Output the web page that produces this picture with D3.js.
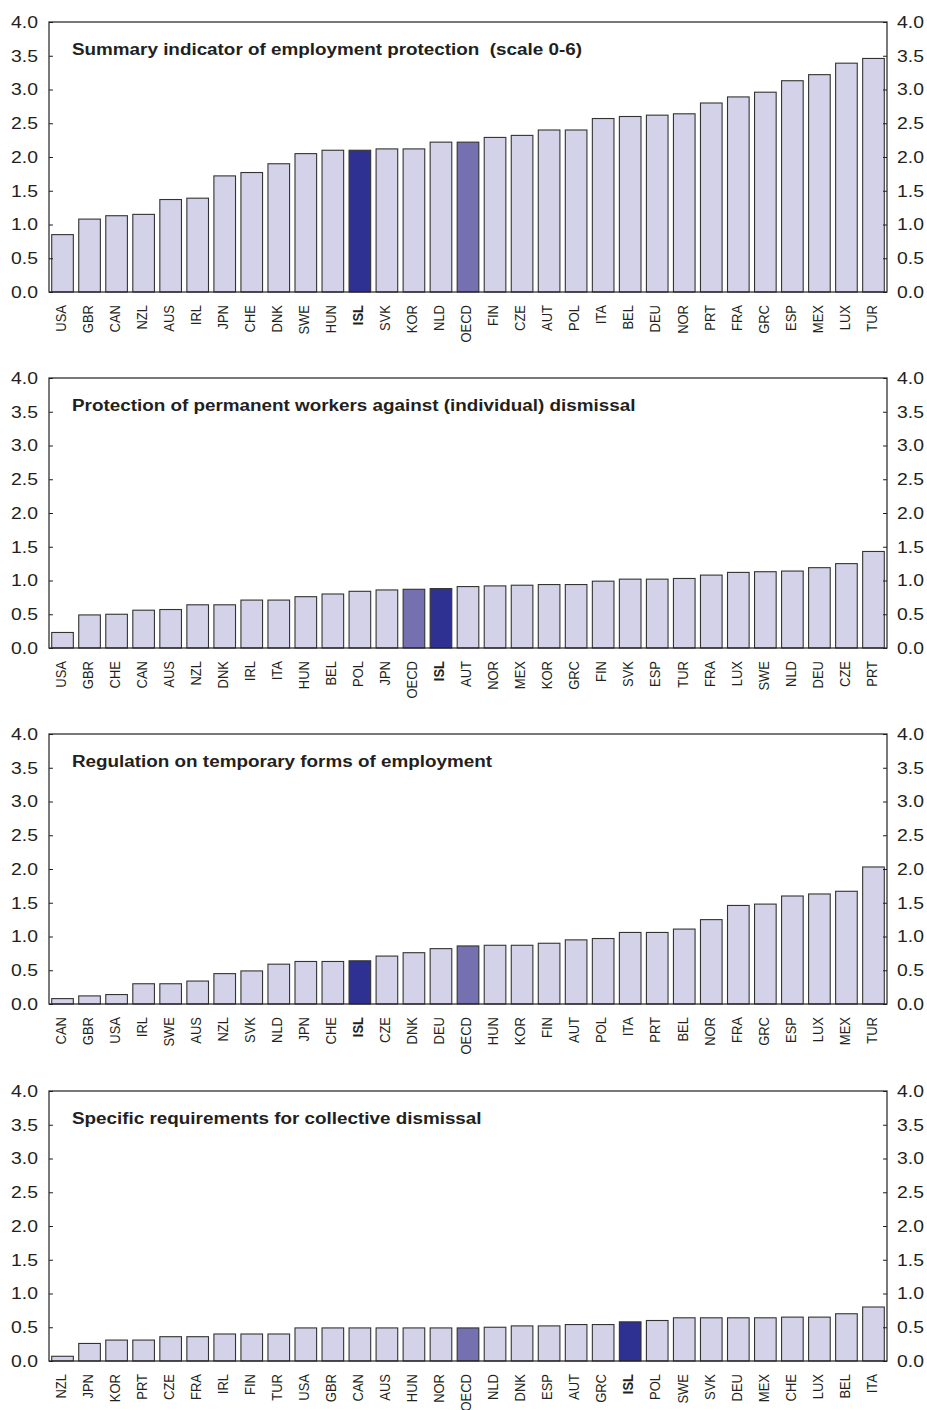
<!DOCTYPE html>
<html><head><meta charset="utf-8">
<script src="https://cdn.jsdelivr.net/npm/d3@7"></script>
<style>body{margin:0;background:#fff;} text{font-family:"Liberation Sans",Arial,Helvetica,sans-serif;}</style>
</head><body><svg id="c" width="927" height="1410"></svg>
<script>
const titles = [
  "Summary indicator of employment protection  (scale 0-6)",
  "Protection of permanent workers against (individual) dismissal",
  "Regulation on temporary forms of employment",
  "Specific requirements for collective dismissal"
];
const cats1 = ["USA","GBR","CAN","NZL","AUS","IRL","JPN","CHE","DNK","SWE","HUN","ISL","SVK","KOR","NLD","OECD","FIN","CZE","AUT","POL","ITA","BEL","DEU","NOR","PRT","FRA","GRC","ESP","MEX","LUX","TUR"];
const vals1 = [0.85,1.08,1.13,1.15,1.37,1.39,1.72,1.77,1.90,2.05,2.10,2.10,2.12,2.12,2.22,2.22,2.29,2.32,2.40,2.40,2.57,2.60,2.62,2.64,2.80,2.89,2.96,3.13,3.22,3.39,3.46];
const cats2 = ["USA","GBR","CHE","CAN","AUS","NZL","DNK","IRL","ITA","HUN","BEL","POL","JPN","OECD","ISL","AUT","NOR","MEX","KOR","GRC","FIN","SVK","ESP","TUR","FRA","LUX","SWE","NLD","DEU","CZE","PRT"];
const vals2 = [0.23,0.49,0.50,0.56,0.57,0.64,0.64,0.71,0.71,0.76,0.80,0.84,0.86,0.87,0.88,0.91,0.92,0.93,0.94,0.94,0.99,1.02,1.02,1.03,1.08,1.12,1.13,1.14,1.19,1.25,1.43];
const cats3 = ["CAN","GBR","USA","IRL","SWE","AUS","NZL","SVK","NLD","JPN","CHE","ISL","CZE","DNK","DEU","OECD","HUN","KOR","FIN","AUT","POL","ITA","PRT","BEL","NOR","FRA","GRC","ESP","LUX","MEX","TUR"];
const vals3 = [0.08,0.12,0.14,0.30,0.30,0.34,0.45,0.49,0.59,0.63,0.63,0.64,0.71,0.76,0.82,0.86,0.87,0.87,0.90,0.95,0.97,1.06,1.06,1.11,1.25,1.46,1.48,1.60,1.63,1.67,2.03];
const cats4 = ["NZL","JPN","KOR","PRT","CZE","FRA","IRL","FIN","TUR","USA","GBR","CAN","AUS","HUN","NOR","OECD","NLD","DNK","ESP","AUT","GRC","ISL","POL","SWE","SVK","DEU","MEX","CHE","LUX","BEL","ITA"];
const vals4 = [0.07,0.26,0.31,0.31,0.36,0.36,0.40,0.40,0.40,0.49,0.49,0.49,0.49,0.49,0.49,0.49,0.50,0.52,0.52,0.54,0.54,0.58,0.60,0.64,0.64,0.64,0.64,0.65,0.65,0.70,0.80];
const yTicks = [0,0.5,1.0,1.5,2.0,2.5,3.0,3.5,4.0];

const panels = [
  {title:titles[0], cats:cats1, vals:vals1},
  {title:titles[1], cats:cats2, vals:vals2},
  {title:titles[2], cats:cats3, vals:vals3},
  {title:titles[3], cats:cats4, vals:vals4}
];
const left = 49, right = 887, plotH = 270, tops = [22, 378, 734, 1091];
const colors = {base:"#d4d2e8", ISL:"#2e3192", OECD:"#7570b0"};
const sx = 1.14, sxTitle = 1.11;
const ink = "#231f20";
const svg = d3.select("#c");

panels.forEach((p, i) => {
  const g = svg.append("g").attr("transform", `translate(0,${tops[i]})`);
  const x = d3.scaleBand().domain(p.cats).range([left, right]).paddingInner(0.2).paddingOuter(0.1);
  const y = d3.scaleLinear().domain([0, 4]).range([plotH, 0]);

  g.selectAll("rect.bar").data(p.cats).join("rect").attr("class","bar")
    .attr("x", d => x(d)).attr("width", x.bandwidth())
    .attr("y", (d, j) => y(p.vals[j])).attr("height", (d, j) => y(0) - y(p.vals[j]))
    .attr("fill", d => colors[d] || colors.base)
    .attr("stroke", "#333").attr("stroke-width", 1.1);

  g.append("rect").attr("x", left).attr("y", 0).attr("width", right - left).attr("height", plotH)
    .attr("fill", "none").attr("stroke", ink).attr("stroke-width", 1.2);

  const fmt = d3.format(".1f");
  const ga = g.append("g").attr("transform", `translate(${left},0)`)
    .call(d3.axisLeft(y).tickValues(yTicks).tickFormat(fmt).tickSizeInner(-4).tickSizeOuter(0));
  const gb = g.append("g").attr("transform", `translate(${right},0)`)
    .call(d3.axisRight(y).tickValues(yTicks).tickFormat(fmt).tickSizeInner(-4).tickSizeOuter(0));
  [ga, gb].forEach(a => {
    a.select(".domain").remove();
    a.selectAll(".tick line").attr("stroke", ink);
    a.selectAll(".tick text").attr("fill", ink).style("font-size", "17px").attr("font-family", null);
  });
  ga.selectAll(".tick text").attr("x", 0).attr("transform", `translate(-11,0) scale(${sx},1)`).attr("text-anchor","end");
  gb.selectAll(".tick text").attr("x", 0).attr("transform", `translate(10,0) scale(${sx},1)`).attr("text-anchor","start");

  g.append("text").attr("transform", `translate(72,33) scale(${sxTitle},1)`)
    .attr("fill", ink).style("font-size", "17px").style("font-weight", "bold")
    .style("white-space", "pre").attr("xml:space", "preserve").text(p.title);

  g.selectAll("text.cat").data(p.cats).join("text").attr("class","cat")
    .attr("transform", d => `translate(${x(d) + x.bandwidth()/2},${plotH + 13}) scale(${sx},1) rotate(-90)`)
    .attr("text-anchor", "end").attr("dy", "0.22em")
    .attr("fill", ink).style("font-size", "13px")
    .style("font-weight", d => d === "ISL" ? "bold" : "normal")
    .text(d => d);
});
</script></body></html>
